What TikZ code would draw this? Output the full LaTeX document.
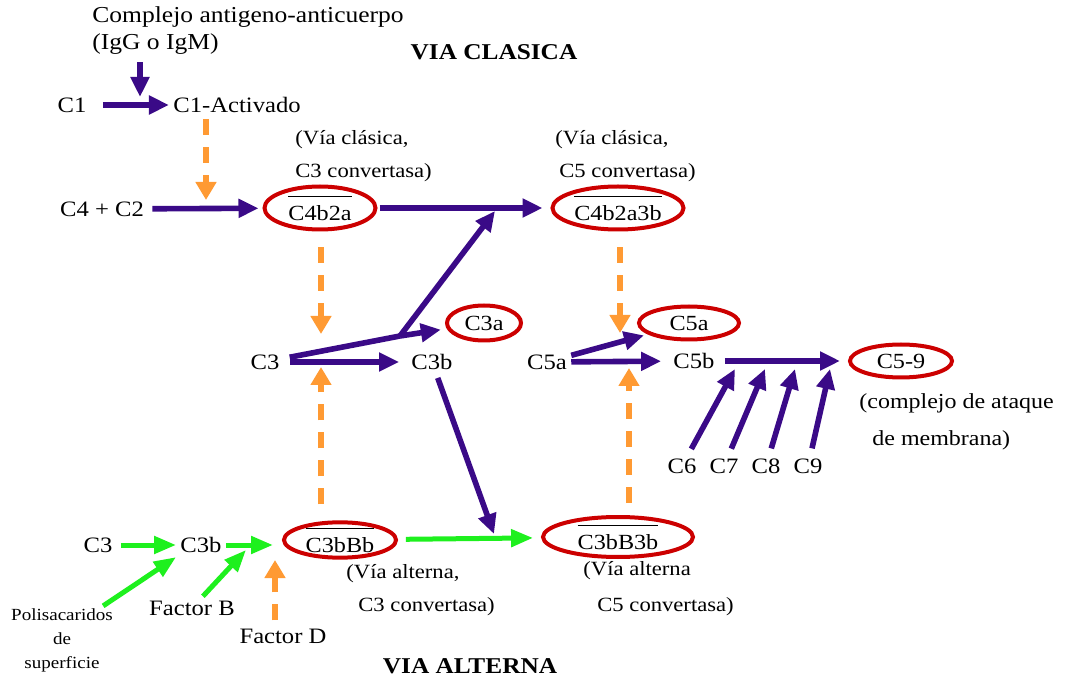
\documentclass[tikz,border=0pt]{standalone}
\usepackage{fontspec}
\setmainfont{Liberation Serif}[FakeStretch=1.12]
\usetikzlibrary{arrows.meta,shapes.geometric,positioning}
\definecolor{pathpurple}{HTML}{3A0A87}
\definecolor{pathorange}{HTML}{FF9A33}
\definecolor{pathgreen}{HTML}{1EF01E}
\definecolor{pathred}{HTML}{CC0000}
\newcommand{\ovl}[1]{$\overline{\hbox{\rule{0pt}{10.4pt}#1}}$}

\begin{document}
\begin{tikzpicture}[x=0.5pt,y=-0.5pt,
  lbl/.style={font=\fontsize{11}{13}\selectfont,inner sep=2pt},
  note/.style={font=\fontsize{10.1}{12}\selectfont,anchor=west,inner sep=0pt},
  head/.style={font=\fontsize{11.3}{13}\selectfont\bfseries},
  prod/.style={ellipse,draw=pathred,line width=2pt,inner sep=0pt,
    font=\fontsize{10.8}{13}\selectfont},
  parr/.style={-{Triangle[length=10pt,width=9pt]},pathpurple,line width=2.8pt},
  garr/.style={-{Triangle[length=11pt,width=8.5pt]},pathgreen,line width=2.5pt},
  oarr/.style={-{Triangle[length=9pt,width=10pt]},pathorange,line width=2.7pt,
    dash pattern=on 8pt off 6pt}
]
  \useasboundingbox (0,0) rectangle (1072,679);

  % via clasica
  \node[font=\fontsize{11.4}{13.5}\selectfont,align=left,anchor=west,inner sep=0pt]
    (ac) at (92,31) {Complejo antigeno-anticuerpo\\(IgG o IgM)};
  \node[head] (viaC) at (494,52) {VIA CLASICA};
  \coordinate (acTip) at (140,97);
  \draw[parr,shorten <=3.5pt] (ac.south -| acTip) -- (acTip);

  \node[lbl] (c1) at (72,105) {C1};
  \node[lbl] (act) at (237,105) {C1-Activado};
  \draw[parr,shorten <=6pt] (c1) -- (act);
  \coordinate (o1) at (206,200);
  \draw[oarr,shorten <=1pt] (act.south -| o1) -- (o1);

  \node[lbl] (c4c2) at (102,209) {C4 + C2};
  \node[prod,minimum width=55.5pt,minimum height=21.5pt] (e1) at (320,208) {\ovl{C4b2a}};
  \node[prod,minimum width=65.5pt,minimum height=21.5pt] (e2) at (618,208) {\ovl{C4b2a3b}};
  \draw[parr,shorten <=2pt,shorten >=2pt] (c4c2) -- (e1);
  \draw[parr,shorten <=1pt,shorten >=4pt] (e1) -- (e2);
  \node[note] (vc1) at (295,140) {(Vía clásica,};
  \node[note] (vc2) at (295,173) {C3 convertasa)};
  \node[note] (vc3) at (555,140) {(Vía clásica,};
  \node[note] (vc4) at (559,173) {C5 convertasa)};

  % C3 / C5
  \node[lbl] (c3) at (265,362) {C3};
  \node[lbl] (c3b) at (432,362) {C3b};
  \node[prod,minimum width=37pt,minimum height=17.5pt] (c3a) at (484,323) {C3a};
  \coordinate (j1) at (400,336);
  \coordinate (j2) at (495,211);
  \draw[parr,shorten <=3pt,shorten >=4pt] (c3) -- (c3b);
  \draw[pathpurple,line width=2.8pt,shorten <=3pt] (c3) -- (j1);
  \draw[parr,shorten >=3pt] (j1) -- (c3a);
  \draw[parr] (j1) -- (j2);
  \coordinate (o2) at (321,334);
  \draw[oarr,shorten <=8pt] (e1.south -| o2) -- (o2);

  \node[lbl] (c5a) at (547,362) {C5a};
  \node[lbl] (c5b) at (694,361) {C5b};
  \node[prod,minimum width=50pt,minimum height=16.5pt] (c5x) at (689,323) {C5a};
  \draw[parr,shorten >=4pt] (c5a) -- (c5b);
  \draw[parr,shorten >=2pt] (c5a) -- (c5x);
  \coordinate (o3) at (620,333);
  \draw[oarr,shorten <=8pt] (e2.south -| o3) -- (o3);

  \node[prod,minimum width=51pt,minimum height=16.5pt] (c59) at (901,361) {C5-9};
  \draw[parr,shorten <=3pt,shorten >=4pt] (c5b) -- (c59);
  \node[note,font=\fontsize{10.7}{12}\selectfont] (mac1) at (859,403) {(complejo de ataque};
  \node[note,font=\fontsize{10.7}{12}\selectfont] (mac2) at (872,440) {de membrana)};
  \foreach \n/\x/\tx in {6/682/735,7/724/765,8/766/795,9/808/830} {
    \node[lbl] (c\n) at (\x,466) {C\n};
    \coordinate (k\n) at (\tx,369);
    \draw[parr,shorten <=3pt] (c\n) -- (k\n);
  }

  % via alterna
  \node[lbl] (b3) at (98,545) {C3};
  \node[lbl] (b3b) at (201,545) {C3b};
  \coordinate (g1) at (273,545);
  \draw[garr,shorten <=2pt] (b3) -- (b3b);
  \draw[garr] (b3b) -- (g1);
  \node[font=\fontsize{8.5}{12}\selectfont,align=center,inner sep=1pt]
    (poli) at (62,640) {Polisacaridos\\de\\superficie};
  \draw[garr] ([xshift=-6pt]poli.north east) -- (b3b.south west);
  \node[lbl] (facB) at (192,608) {Factor B};
  \coordinate (g2) at (246,550);
  \draw[garr] (facB) -- (g2);
  \node[lbl] (facD) at (283,636) {Factor D};
  \coordinate (o4) at (275,560);
  \draw[oarr,shorten <=2pt] (facD.north -| o4) -- (o4);

  \node[prod,minimum width=56pt,minimum height=17.5pt] (e3) at (340,540) {\ovl{C3bBb}};
  \node[prod,minimum width=75pt,minimum height=20pt] (e4) at (618,537) {\ovl{C3bB3b}};
  \draw[garr,shorten <=4pt,shorten >=4pt] (e3) -- (e4);
  \coordinate (j3) at (494,534);
  \draw[parr,shorten <=2pt] (c3b) -- (j3);
  \coordinate (o5) at (321,367);
  \draw[oarr,shorten <=8pt] (e3.north -| o5) -- (o5);
  \coordinate (o6) at (629,368);
  \draw[oarr,shorten <=6pt] (e4.north -| o6) -- (o6);
  \node[note] (va1) at (346,574) {(Vía alterna,};
  \node[note] (va2) at (358,607) {C3 convertasa)};
  \node[note] (va3) at (583,571) {(Vía alterna};
  \node[note] (va4) at (597,607) {C5 convertasa)};
  \node[head] (viaA) at (470,666) {VIA ALTERNA};
\end{tikzpicture}
\end{document}
